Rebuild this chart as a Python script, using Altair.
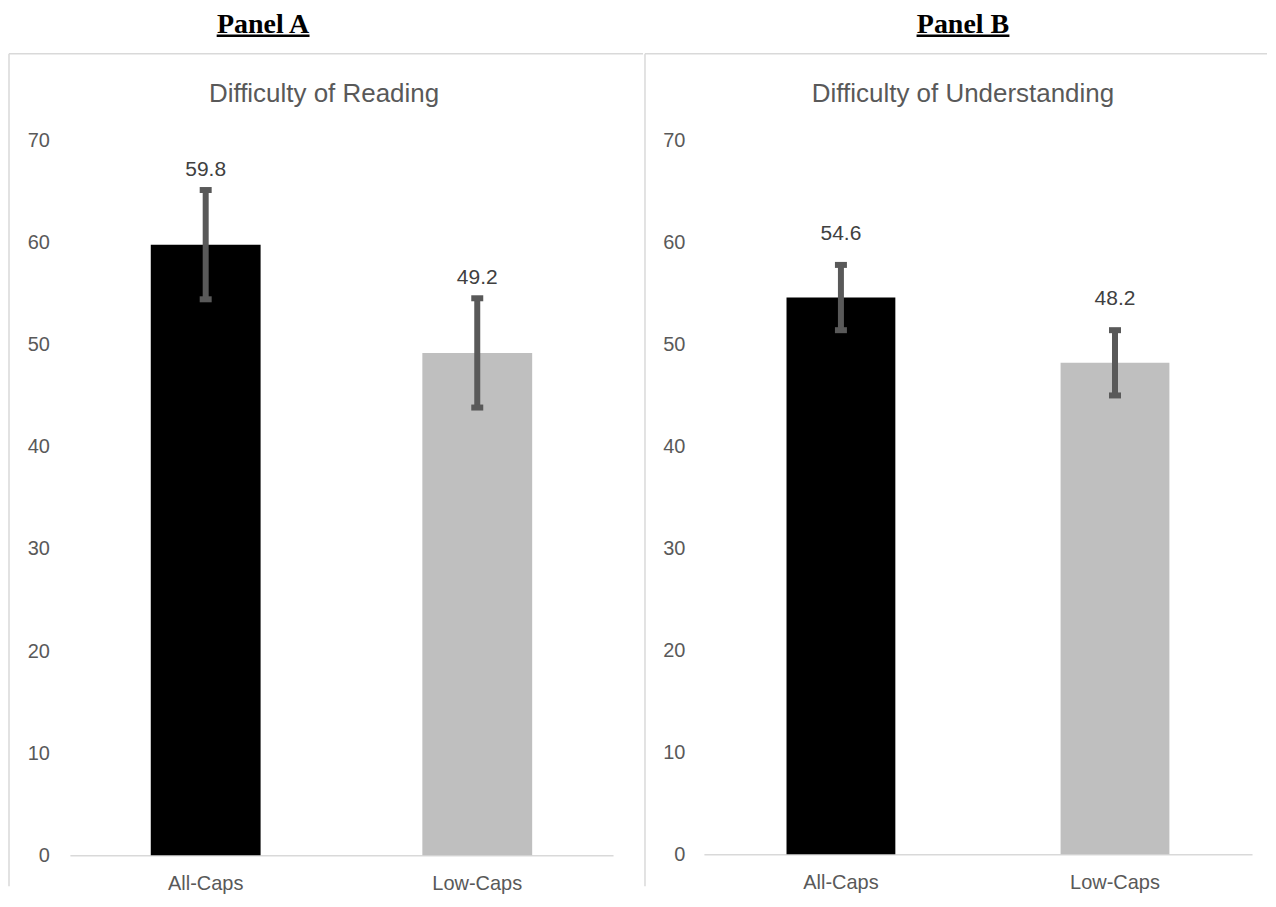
import altair as alt
import pandas as pd

# ---------------- data ----------------
categories = ["All-Caps", "Low-Caps"]
reading_means = [59.8, 49.2]
reading_errors = [5.35, 5.35]
understanding_means = [54.6, 48.2]
understanding_errors = [3.2, 3.2]
y_ticks = [0, 10, 20, 30, 40, 50, 60, 70]
panel_labels = ["Panel A", "Panel B"]
chart_titles = ["Difficulty of Reading", "Difficulty of Understanding"]
bar_colors = ["#000000", "#bfbfbf"]

SANS = "Liberation Sans"
SERIF = "Liberation Serif"
TEXT_GREY = "#595959"
LINE_GREY = "#d9d9d9"
H = 834


def make_panel(means, errors, panel_label, title, W, y_zero, y_top, x_range,
               bar_size, y_off, label_dy, title_x, panel_x, ul):
    df = pd.DataFrame({
        "category": categories,
        "mean": means,
        "lower": [m - e for m, e in zip(means, errors)],
        "upper": [m + e for m, e in zip(means, errors)],
    })
    one = pd.DataFrame({"t": [title], "p": [panel_label]})

    x = alt.X("category:N", sort=categories,
              scale=alt.Scale(domain=categories, range=x_range,
                              paddingInner=0, paddingOuter=0),
              axis=alt.Axis(title=None, labelAngle=0, ticks=False, tickSize=0,
                            domain=True, domainColor=LINE_GREY, domainWidth=1.5,
                            labelFont=SANS, labelFontSize=20, labelColor=TEXT_GREY,
                            labelBaseline="middle", labelPadding=28,
                            offset=-(H - y_zero), grid=False))
    yscale = alt.Scale(domain=[0, 70], range=[y_zero, y_top], nice=False, zero=True)
    y = alt.Y("mean:Q", scale=yscale,
              axis=alt.Axis(title=None, values=y_ticks, domain=False, ticks=False,
                            tickSize=0, grid=False, labelPadding=0, offset=y_off,
                            labelFont=SANS, labelFontSize=20, labelColor=TEXT_GREY))

    base = alt.Chart(df)
    bars = base.mark_bar(size=bar_size).encode(
        x=x, y=y,
        color=alt.Color("category:N", scale=alt.Scale(domain=categories, range=bar_colors),
                        legend=None),
    )
    err = base.mark_rule(color=TEXT_GREY, strokeWidth=6).encode(
        x=x, y=alt.Y("lower:Q", scale=yscale), y2="upper:Q")
    cap_hi = base.mark_tick(color=TEXT_GREY, size=12, thickness=6, opacity=1).encode(
        x=x, y=alt.Y("upper:Q", scale=yscale))
    cap_lo = base.mark_tick(color=TEXT_GREY, size=12, thickness=6, opacity=1).encode(
        x=x, y=alt.Y("lower:Q", scale=yscale))
    labels = base.mark_text(dy=label_dy, baseline="middle", font=SANS, fontSize=21,
                            color="#404040").encode(
        x=x, y=alt.Y("upper:Q", scale=yscale), text=alt.Text("mean:Q", format=".1f"))

    deco = alt.Chart(one)
    title_txt = deco.mark_text(font=SANS, fontSize=26, color=TEXT_GREY,
                               baseline="middle", align="center").encode(
        x=alt.value(title_x), y=alt.value(40), text="t:N")
    panel_txt = deco.mark_text(font=SERIF, fontSize=28, fontWeight="bold", color="#000000",
                               baseline="alphabetic", align="center").encode(
        x=alt.value(panel_x), y=alt.value(-21), text="p:N")
    underline = deco.mark_rule(color="#000000", strokeWidth=2.5).encode(
        x=alt.value(ul[0]), x2=alt.value(ul[1]), y=alt.value(-18))
    border_left = deco.mark_rule(color=LINE_GREY, strokeWidth=1.5).encode(
        x=alt.value(0), y=alt.value(0), y2=alt.value(H))
    border_top = deco.mark_rule(color=LINE_GREY, strokeWidth=1.5).encode(
        x=alt.value(0), x2=alt.value(W), y=alt.value(0))

    return alt.layer(border_left, border_top, bars, err, cap_hi, cap_lo, labels,
                     title_txt, panel_txt, underline).properties(width=W, height=H)


panel_a = make_panel(reading_means, reading_errors, panel_labels[0], chart_titles[0],
                     W=635, y_zero=803, y_top=87, x_range=[61, 605], bar_size=110,
                     y_off=-40.5, label_dy=-20, title_x=315.5, panel_x=254.5,
                     ul=(208, 301))
panel_b = make_panel(understanding_means, understanding_errors, panel_labels[1],
                     chart_titles[1], W=623, y_zero=802, y_top=87, x_range=[59, 608],
                     bar_size=109, y_off=-40, label_dy=-31, title_x=318.5,
                     panel_x=318.5, ul=(272, 365))

chart = alt.hconcat(panel_a, panel_b, spacing=0).properties(
    padding={"top": 2, "left": 0, "right": 0, "bottom": 0}, background="#ffffff"
).configure_view(stroke=None)

chart.save("out.html", embed_options={"renderer": "svg", "actions": False})
